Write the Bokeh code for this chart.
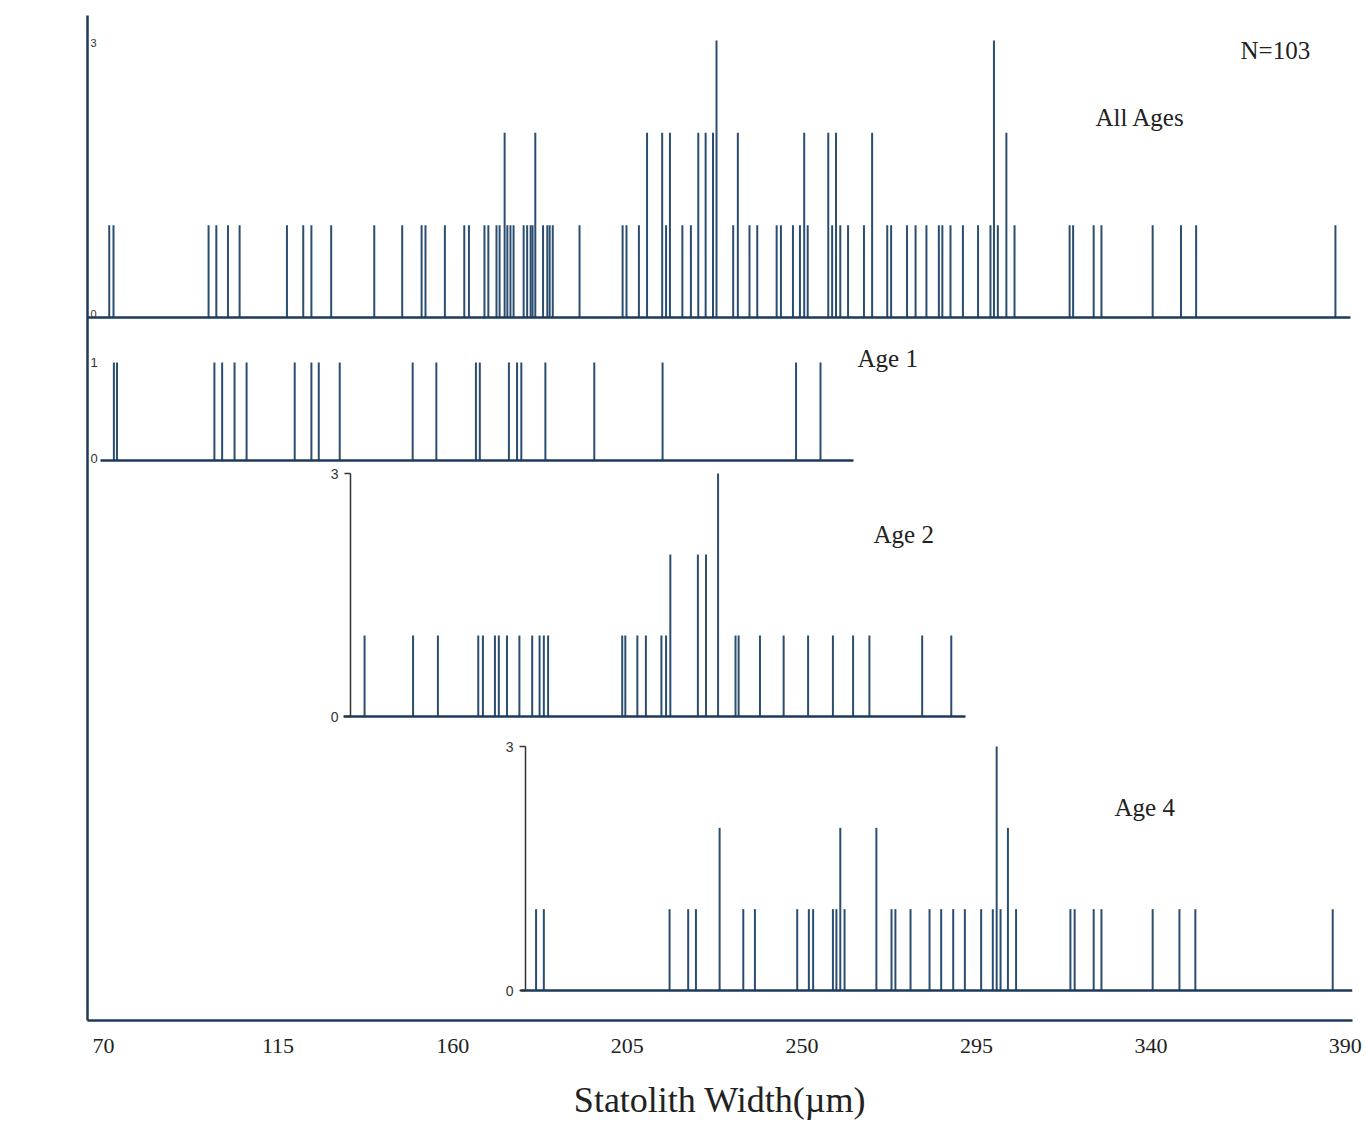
import math
from bokeh.plotting import figure
from bokeh.models import Range1d, FixedTicker, ColumnDataSource, Label
from bokeh.core.properties import value
from bokeh.embed import file_html
from bokeh.resources import INLINE

# ---------------- data ----------------
x_ticks = [70, 115, 160, 205, 250, 295, 340, 390]

all_w = [71.5, 72.6, 97.1, 99.1, 102.1, 105.1, 117.3, 121.5, 123.6, 128.7,
         139.8, 147.0, 152.0, 153.0, 158.0, 163.0, 164.2, 168.2, 169.2, 171.3,
         172.1, 173.4, 174.1, 174.9, 175.7, 178.3, 179.2, 180.1, 180.6, 181.3,
         183.3, 184.4, 185.0, 185.8, 192.7, 203.8, 204.8, 208.0, 210.1, 214.0,
         215.0, 216.0, 219.2, 221.4, 223.3, 225.2, 227.1, 228.0, 232.3, 233.5,
         236.5, 238.5, 243.5, 244.6, 247.7, 249.5, 250.6, 251.5, 256.8, 257.8,
         258.8, 259.9, 261.9, 266.0, 268.1, 272.0, 273.0, 277.1, 279.3, 282.1,
         285.3, 286.2, 288.3, 291.5, 295.4, 298.6, 299.5, 300.5, 302.7, 304.8,
         319.0, 319.9, 325.2, 327.2, 340.4, 347.7, 351.6, 387.5]
all_n = [1, 1, 1, 1, 1, 1, 1, 1, 1, 1,
         1, 1, 1, 1, 1, 1, 1, 1, 1, 1,
         1, 2, 1, 1, 1, 1, 1, 1, 1, 2,
         1, 1, 1, 1, 1, 1, 1, 1, 2, 2,
         1, 2, 1, 1, 2, 2, 2, 3, 1, 2,
         1, 1, 1, 1, 1, 1, 2, 1, 2, 1,
         2, 1, 1, 1, 2, 1, 1, 1, 1, 1,
         1, 1, 1, 1, 1, 1, 3, 1, 2, 1,
         1, 1, 1, 1, 1, 1, 1, 1]

age1_w = [72.7, 73.5, 98.6, 100.6, 103.8, 106.9, 119.3, 123.6, 125.5, 130.9,
          149.7, 155.8, 166.0, 167.0, 174.5, 176.6, 177.7, 183.9, 196.5, 214.1,
          248.5, 254.8]
age1_n = [1, 1, 1, 1, 1, 1, 1, 1, 1, 1,
          1, 1, 1, 1, 1, 1, 1, 1, 1, 1,
          1, 1]

age2_w = [137.3, 149.8, 156.2, 166.6, 167.8, 170.9, 171.9, 174.0, 177.2, 180.5,
          182.4, 183.5, 184.6, 203.7, 204.5, 207.6, 209.8, 213.8, 215.0, 216.1,
          223.2, 225.3, 228.4, 232.9, 233.7, 239.2, 245.3, 251.6, 258.0, 263.2,
          267.4, 281.0, 288.5]
age2_n = [1, 1, 1, 1, 1, 1, 1, 1, 1, 1,
          1, 1, 1, 1, 1, 1, 1, 1, 1, 2,
          2, 2, 3, 1, 1, 1, 1, 1, 1, 1,
          1, 1, 1]

age4_w = [181.5, 183.5, 215.9, 220.7, 222.7, 228.8, 234.9, 237.9, 248.8, 251.8,
          252.9, 258.0, 258.9, 259.9, 261.0, 269.2, 273.1, 274.1, 278.0, 282.9,
          285.9, 289.0, 292.0, 296.2, 299.2, 300.2, 301.2, 303.1, 305.2, 319.2,
          320.3, 325.2, 327.2, 340.4, 347.3, 351.4, 386.8]
age4_n = [1, 1, 1, 1, 1, 2, 1, 1, 1, 1,
          1, 1, 1, 2, 1, 2, 1, 1, 1, 1,
          1, 1, 1, 1, 1, 3, 1, 2, 1, 1,
          1, 1, 1, 1, 1, 1, 1]

panel_names = ["All Ages", "Age 1", "Age 2", "Age 4"]
panel_max = [3, 1, 3, 3]

# ---------------- layout / style ----------------
W, H = 1366, 1122
FL, FR, FT, FB = 87, 1352, 15, 1020        # frame edges in page pixels
X0, X1 = 65.9, 391.9                        # x range across the frame
BAR = "#2b4e70"
AXC = "#1d3a5a"
SERIF = "Liberation Serif"
SANS = "Liberation Sans"


def px2x(px):
    return X0 + (px - FL) / (FR - FL) * (X1 - X0)


# per panel: baseline px, top px (value = max), baseline extent (px), own axis px or None
panel_geom = {
    "All Ages": dict(b=317, t=40, lo=87, hi=1350, ax=None),
    "Age 1": dict(b=460, t=362, lo=100, hi=853, ax=None),
    "Age 2": dict(b=716, t=473, lo=343, hi=965, ax=350),
    "Age 4": dict(b=990, t=746, lo=520, hi=1352, ax=525),
}
panel_data = {
    "All Ages": (all_w, all_n),
    "Age 1": (age1_w, age1_n),
    "Age 2": (age2_w, age2_n),
    "Age 4": (age4_w, age4_n),
}

p = figure(width=W, height=H, x_range=Range1d(X0, X1), y_range=Range1d(FB, FT),
           output_backend="svg", toolbar_location=None,
           min_border_left=FL, min_border_right=W - FR, min_border_top=FT,
           min_border_bottom=H - FB)
p.outline_line_color = None
p.xgrid.visible = False
p.ygrid.visible = False
p.background_fill_color = "white"
p.border_fill_color = "white"

# x axis
xa = p.xaxis[0]
xa.ticker = FixedTicker(ticks=x_ticks)
xa.major_tick_out = 0
xa.major_tick_in = 0
xa.minor_tick_out = 0
xa.minor_tick_in = 0
xa.axis_line_color = AXC
xa.axis_line_width = 2.5
xa.major_label_text_font = SERIF
xa.major_label_text_font_size = "22px"
xa.major_label_text_color = "#222222"
xa.major_label_standoff = 18
xa.axis_label = "Statolith Width(µm)"
xa.axis_label_text_font = SERIF
xa.axis_label_text_font_size = "36px"
xa.axis_label_text_font_style = "normal"
xa.axis_label_text_color = "#222222"
xa.axis_label_standoff = 24

# y axis (frame line only)
ya = p.yaxis[0]
ya.ticker = FixedTicker(ticks=[])
ya.major_tick_out = 0
ya.minor_tick_out = 0
ya.major_label_text_font_size = "0px"
ya.axis_line_color = AXC
ya.axis_line_width = 2.5

# y title placed like the reference (above the frame centre)
p.add_layout(Label(x=px2x(28), y=465, text="Number of Statoliths", angle=math.pi / 2,
                   text_align="center", text_baseline="middle",
                   text_font=SERIF, text_font_size="36px", text_color="#222222"))

for name, vmax in zip(panel_names, panel_max):
    g = panel_geom[name]
    s = (g["b"] - g["t"]) / vmax
    rname = name.replace(" ", "_")
    p.extra_y_ranges[rname] = Range1d(start=(g["b"] - FB) / s, end=(g["b"] - FT) / s)
    w, n = panel_data[name]
    src = ColumnDataSource(dict(w=w, n=n, z=[0] * len(w)))
    p.segment(x0="w", y0="z", x1="w", y1="n", source=src, y_range_name=rname,
              line_color=BAR, line_width=2)
    # baseline
    p.segment(x0=[px2x(g["lo"])], y0=[0], x1=[px2x(g["hi"])], y1=[0],
              y_range_name=rname, line_color=AXC, line_width=2.5)
    if g["ax"] is not None:
        axx = px2x(g["ax"])
        p.segment(x0=[axx], y0=[0], x1=[axx], y1=[vmax], y_range_name=rname,
                  line_color="#333333", line_width=1.5)
        tick = px2x(g["ax"]) - px2x(g["ax"] - 6)
        p.segment(x0=[axx - tick, axx - tick], y0=[0, vmax], x1=[axx, axx], y1=[0, vmax],
                  y_range_name=rname, line_color="#333333", line_width=1.5)
        p.text(x=[axx, axx], y=[0, vmax], text=["0", str(vmax)], y_range_name=rname,
               x_offset=-12, text_align="right", text_baseline="middle",
               text_font=value(SANS), text_font_size="14px", text_color="#333333")
    else:
        fs = "11px" if name == "All Ages" else "13px"
        p.text(x=[px2x(90), px2x(90)], y=[0, vmax], text=["0", str(vmax)],
               y_range_name=rname, y_offset=[-4, 2] if name == "All Ages" else [-2, 0],
               text_align="left", text_baseline="middle",
               text_font=value(SANS), text_font_size=fs, text_color="#333333")

# panel titles (page-pixel positions)
lab_txt = ["N=103", "All Ages", "Age 1", "Age 2", "Age 4"]
lab_px = [1240, 1095, 857, 873, 1114]
lab_py = [50, 117, 358, 534, 807]
p.text(x=[px2x(v) for v in lab_px], y=lab_py, text=lab_txt,
       text_align="left", text_baseline="middle",
       text_font=value(SERIF), text_font_size="25px", text_color="#222222")

open("out.html", "w").write(file_html(p, INLINE))
